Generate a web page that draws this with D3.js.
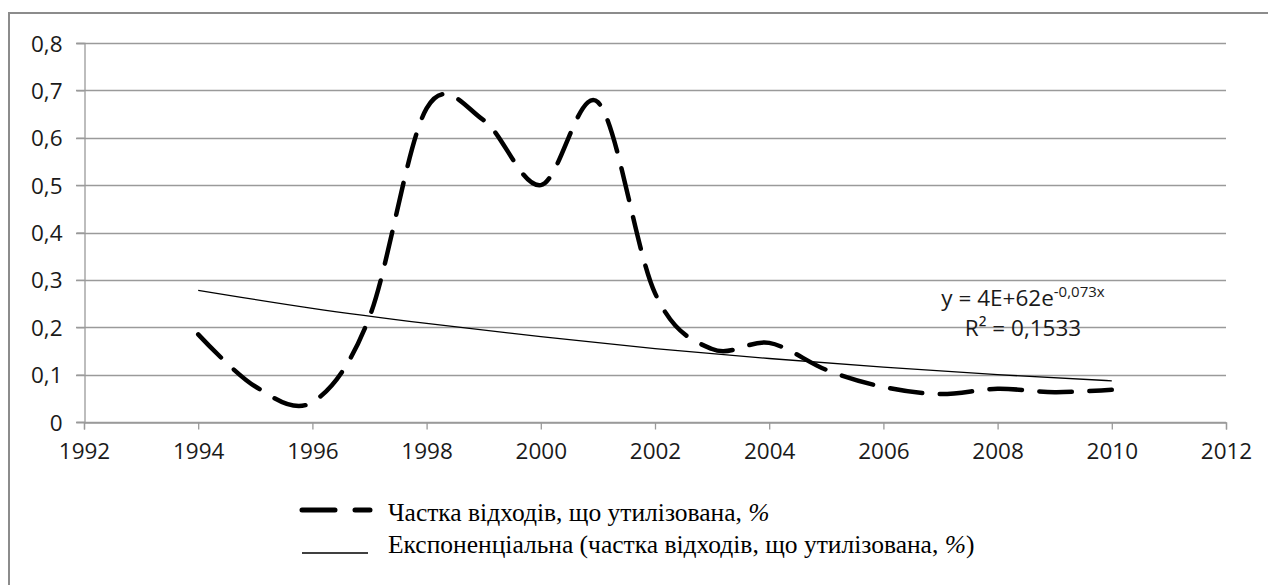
<!DOCTYPE html>
<html>
<head>
<meta charset="utf-8">
<script src="https://cdn.jsdelivr.net/npm/d3@7"></script>
<style>
  body { margin: 0; background: #fff; }
  svg { display: block; }
</style>
</head>
<body>
<div id="container"></div>
<script>

// Data
const years = [1994, 1995, 1996, 1997, 1998, 1999, 2000, 2001, 2002,
               2003, 2004, 2005, 2006, 2007, 2008, 2009, 2010];
const share = [0.185, 0.075, 0.042, 0.222, 0.662, 0.637, 0.500, 0.675, 0.272,
               0.154, 0.167, 0.110, 0.074, 0.059, 0.070, 0.063, 0.068];

// Exponential trend line, read at every other year
const trendYears = [1994, 1996, 1998, 2000, 2002, 2004, 2006, 2008, 2010];
const trendValues = [0.278, 0.240, 0.208, 0.180, 0.155, 0.134, 0.116, 0.100, 0.087];

const xTicks = [1992, 1994, 1996, 1998, 2000, 2002, 2004, 2006, 2008, 2010, 2012];
const yTicks = [0, 0.1, 0.2, 0.3, 0.4, 0.5, 0.6, 0.7, 0.8];

const legendLabels = ["Частка відходів, що утилізована, ", "Експоненціальна (частка відходів, що утилізована, "];

// Container size
const width = 1268;
const height = 585;

// Plot area
const marginTop = 43;
const marginLeft = 84;
const plotRight = 1226;
const plotBottom = 422;

const x = d3.scaleLinear()
    .domain([1992, 2012])
    .range([marginLeft, plotRight]);

const y = d3.scaleLinear()
    .domain([0, 0.8])
    .range([plotBottom, marginTop]);

const svg = d3.create("svg")
    .attr("width", width)
    .attr("height", height);

container.append(svg.node());

// Outer frame (cropped on right and bottom)
svg.append("rect")
    .attr("x", 9)
    .attr("y", 13)
    .attr("width", width + 20)
    .attr("height", height + 20)
    .attr("fill", "none")
    .attr("stroke", "#8c8c8c")
    .attr("stroke-width", 2);

const fmt = d => d === 0 ? "0" : d3.format(".1f")(d).replace(".", ",");

// Gridlines
svg.append("g")
  .selectAll("line")
  .data(yTicks)
  .join("line")
    .attr("x1", marginLeft - 8)
    .attr("x2", plotRight)
    .attr("y1", d => Math.round(y(d)) + 0.5)
    .attr("y2", d => Math.round(y(d)) + 0.5)
    .attr("stroke", "#9a9a9a")
    .attr("stroke-width", 1.3);

// y-axis
const yAxis = svg.append("g")
    .attr("transform", `translate(${marginLeft + 0.5},0)`)
    .call(d3.axisLeft(y).tickValues(yTicks).tickFormat(fmt).tickSize(8).tickPadding(14));

// x-axis
const xAxis = svg.append("g")
    .attr("transform", `translate(0,${Math.round(plotBottom) + 0.5})`)
    .call(d3.axisBottom(x).tickValues(xTicks).tickFormat(d3.format("d")).tickSize(7).tickPadding(14));

[yAxis, xAxis].forEach(g => {
  g.select(".domain").attr("stroke", "#9a9a9a").attr("stroke-width", 1.3);
  g.selectAll(".tick line").attr("stroke", "#9a9a9a").attr("stroke-width", 1.3);
  g.selectAll(".tick text")
    .attr("fill", "#1a1a1a")
    .attr("font-family", "'Open Sans', sans-serif")
    .attr("font-size", 22.5);
});
yAxis.selectAll(".tick text").attr("dy", "0.36em");
xAxis.selectAll(".tick text").attr("dy", "0.71em");

// Trend line (thin, solid)
const trendLine = d3.line()
    .x((d, i) => x(trendYears[i]))
    .y(d => y(d))
    .curve(d3.curveMonotoneX);

svg.append("path")
    .attr("d", trendLine(trendValues))
    .attr("fill", "none")
    .attr("stroke", "#000")
    .attr("stroke-width", 1.3);

// Main series (smoothed, long dash)
const line = d3.line()
    .x((d, i) => x(years[i]))
    .y(d => y(d))
    .curve(d3.curveCatmullRom.alpha(0));

svg.append("path")
    .attr("d", line(share))
    .attr("fill", "none")
    .attr("stroke", "#000")
    .attr("stroke-width", 4.5)
    .attr("stroke-linecap", "round")
    .attr("stroke-dasharray", "32.5 17.5");

// Trendline equation
const eq = svg.append("text")
    .attr("x", 1023)
    .attr("y", 306)
    .attr("text-anchor", "middle")
    .attr("fill", "#1a1a1a")
    .attr("font-family", "'Open Sans', sans-serif")
    .attr("font-size", 22.5);
eq.append("tspan").text("y = 4E+62e");
eq.append("tspan").attr("font-size", 15).attr("dy", -9).text("-0,073x");

svg.append("text")
    .attr("x", 1023)
    .attr("y", 336)
    .attr("text-anchor", "middle")
    .attr("fill", "#1a1a1a")
    .attr("font-family", "'Open Sans', sans-serif")
    .attr("font-size", 22.5)
    .text("R² = 0,1533");

// Legend (by hand)
svg.append("line")
    .attr("x1", 302).attr("x2", 370)
    .attr("y1", 510).attr("y2", 510)
    .attr("stroke", "#000")
    .attr("stroke-width", 5)
    .attr("stroke-linecap", "round")
    .attr("stroke-dasharray", "33 20");

svg.append("line")
    .attr("x1", 302).attr("x2", 368)
    .attr("y1", 553).attr("y2", 553)
    .attr("stroke", "#000")
    .attr("stroke-width", 1.3);

const lt1 = svg.append("text")
    .attr("x", 388)
    .attr("y", 521)
    .attr("fill", "#000")
    .attr("font-family", "'Liberation Serif', 'Times New Roman', serif")
    .attr("font-size", 25.5);
lt1.append("tspan").text(legendLabels[0]);
lt1.append("tspan").attr("font-style", "italic").text("%");

const lt2 = svg.append("text")
    .attr("x", 388)
    .attr("y", 553)
    .attr("fill", "#000")
    .attr("font-family", "'Liberation Serif', 'Times New Roman', serif")
    .attr("font-size", 25.5);
lt2.append("tspan").text(legendLabels[1]);
lt2.append("tspan").attr("font-style", "italic").text("%");
lt2.append("tspan").text(")");

</script>
</body>
</html>
